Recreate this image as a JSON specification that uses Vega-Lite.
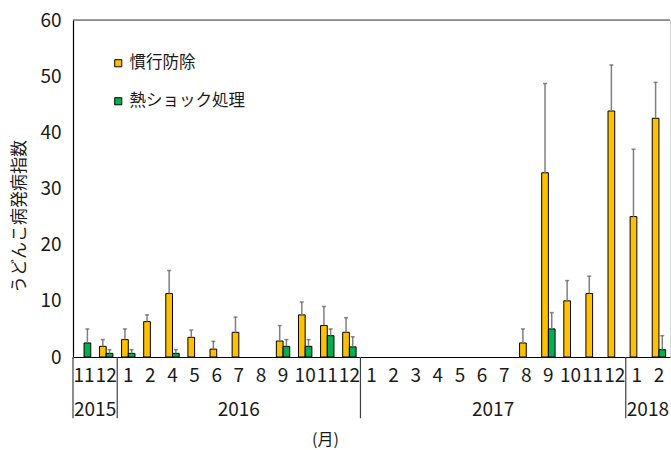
{
  "$schema": "https://vega.github.io/schema/vega-lite/v6.json",
  "width": 597,
  "height": 337,
  "autosize": "none",
  "padding": {"left": 73, "top": 20, "right": 1, "bottom": 93},
  "config": {"font": "Noto Sans CJK JP", "view": {"stroke": "#d9d9d9"}},
  "datasets": {
    "bars": [
      {"cat": "2015-11", "s": "熱ショック処理", "v": 2.5, "e": 5.0},
      {"cat": "2015-12", "s": "慣行防除", "v": 1.9, "e": 3.1},
      {"cat": "2015-12", "s": "熱ショック処理", "v": 0.65, "e": 1.3},
      {"cat": "2016-01", "s": "慣行防除", "v": 3.1, "e": 5.0},
      {"cat": "2016-01", "s": "熱ショック処理", "v": 0.65, "e": 1.3},
      {"cat": "2016-02", "s": "慣行防除", "v": 6.3, "e": 7.5},
      {"cat": "2016-04", "s": "慣行防除", "v": 11.3, "e": 15.4},
      {"cat": "2016-04", "s": "熱ショック処理", "v": 0.65, "e": 1.3},
      {"cat": "2016-05", "s": "慣行防除", "v": 3.5, "e": 4.8},
      {"cat": "2016-06", "s": "慣行防除", "v": 1.4, "e": 2.8},
      {"cat": "2016-07", "s": "慣行防除", "v": 4.4, "e": 7.1},
      {"cat": "2016-09", "s": "慣行防除", "v": 2.85, "e": 5.6},
      {"cat": "2016-09", "s": "熱ショック処理", "v": 1.9, "e": 3.1},
      {"cat": "2016-10", "s": "慣行防除", "v": 7.5, "e": 9.8},
      {"cat": "2016-10", "s": "熱ショック処理", "v": 1.9, "e": 3.1},
      {"cat": "2016-11", "s": "慣行防除", "v": 5.6, "e": 9.0},
      {"cat": "2016-11", "s": "熱ショック処理", "v": 3.8, "e": 5.0},
      {"cat": "2016-12", "s": "慣行防除", "v": 4.4, "e": 7.0},
      {"cat": "2016-12", "s": "熱ショック処理", "v": 1.8, "e": 3.6},
      {"cat": "2017-08", "s": "慣行防除", "v": 2.5, "e": 5.0},
      {"cat": "2017-09", "s": "慣行防除", "v": 32.8, "e": 48.7},
      {"cat": "2017-09", "s": "熱ショック処理", "v": 5.0, "e": 7.9},
      {"cat": "2017-10", "s": "慣行防除", "v": 10.0, "e": 13.6},
      {"cat": "2017-11", "s": "慣行防除", "v": 11.3, "e": 14.4},
      {"cat": "2017-12", "s": "慣行防除", "v": 43.8, "e": 52.0},
      {"cat": "2018-01", "s": "慣行防除", "v": 25.0, "e": 37.0},
      {"cat": "2018-02", "s": "慣行防除", "v": 42.5, "e": 48.9},
      {"cat": "2018-02", "s": "熱ショック処理", "v": 1.3, "e": 3.8}
    ],
    "seps": [
      {"cat": "2015-11"}, {"cat": "2016-01"}, {"cat": "2017-01"}, {"cat": "2018-01"}
    ],
    "yearsEdge": [
      {"cat": "2015-12", "year": "2015"},
      {"cat": "2017-07", "year": "2017"},
      {"cat": "2018-02", "year": "2018"}
    ],
    "yearsMid": [
      {"cat": "2016-07", "year": "2016"}
    ]
  },
  "layer": [
    {
      "data": {"name": "bars"},
      "mark": {"type": "bar", "stroke": "#000", "strokeWidth": 1},
      "encoding": {
        "x": {
          "field": "cat", "type": "nominal",
          "scale": {"domain": ["2015-11","2015-12","2016-01","2016-02","2016-04","2016-05","2016-06","2016-07","2016-08","2016-09","2016-10","2016-11","2016-12","2017-01","2017-02","2017-03","2017-04","2017-05","2017-06","2017-07","2017-08","2017-09","2017-10","2017-11","2017-12","2018-01","2018-02"], "paddingInner": 0, "paddingOuter": 0},
          "axis": {
            "title": "(月)", "titleFontSize": 16, "titleFontWeight": "normal", "titleColor": "#1a1a1a",
            "titleX": 252, "titleY": 87, "titleBaseline": "alphabetic",
            "labelExpr": "toNumber(split(datum.value, '-')[1])",
            "labelAngle": 0, "labelFontSize": 19, "labelColor": "#1a1a1a", "labelPadding": 9,
            "ticks": false, "domainColor": "#000", "domainWidth": 1.2, "grid": false
          }
        },
        "xOffset": {"field": "s", "type": "nominal", "scale": {"domain": ["慣行防除", "熱ショック処理"], "paddingInner": 0, "paddingOuter": 0.65}},
        "y": {
          "field": "v", "type": "quantitative",
          "scale": {"domain": [0, 60], "nice": false},
          "axis": {
            "title": "うどんこ病発病指数", "titleFontSize": 17, "titleFontWeight": "normal", "titleColor": "#1a1a1a",
            "titleX": -45, "titleY": 196,
            "values": [0, 10, 20, 30, 40, 50, 60],
            "labelFontSize": 19, "labelColor": "#1a1a1a", "labelPadding": 12,
            "ticks": false, "grid": false, "domainColor": "#000", "domainWidth": 1.2
          }
        },
        "color": {
          "field": "s", "type": "nominal",
          "scale": {"domain": ["慣行防除", "熱ショック処理"], "range": ["#FFC000", "#00B050"]},
          "legend": {
            "orient": "none", "legendX": 37, "legendY": 35, "title": null,
            "symbolType": "square", "symbolSize": 50, "symbolStrokeColor": "#000", "symbolStrokeWidth": 1,
            "labelFontSize": 16.5, "labelColor": "#1a1a1a", "rowPadding": 21, "labelOffset": 3
          }
        }
      }
    },
    {
      "data": {"name": "bars"},
      "mark": {"type": "rule", "color": "#808080", "strokeWidth": 1.5},
      "encoding": {
        "x": {"field": "cat", "type": "nominal"},
        "xOffset": {"field": "s", "type": "nominal"},
        "y": {"field": "v", "type": "quantitative", "scale": {"domain": [0, 60], "nice": false}},
        "y2": {"field": "e"}
      }
    },
    {
      "data": {"name": "bars"},
      "mark": {"type": "tick", "color": "#595959", "size": 4, "thickness": 1.5},
      "encoding": {
        "x": {"field": "cat", "type": "nominal"},
        "xOffset": {"field": "s", "type": "nominal"},
        "y": {"field": "e", "type": "quantitative", "scale": {"domain": [0, 60], "nice": false}}
      }
    },
    {
      "data": {"values": [{}]},
      "mark": {"type": "rule", "color": "#404040", "strokeWidth": 1.2},
      "encoding": {
        "y": {"datum": 60, "type": "quantitative", "scale": {"domain": [0, 60], "nice": false}}
      }
    },
    {
      "data": {"name": "seps"},
      "mark": {"type": "rule", "color": "#404040", "strokeWidth": 1.2},
      "encoding": {
        "x": {"field": "cat", "type": "nominal", "bandPosition": 0},
        "y": {"datum": 0, "type": "quantitative", "scale": {"domain": [0, 60], "nice": false}},
        "y2": {"datum": -10.9}
      }
    },
    {
      "data": {"name": "yearsEdge"},
      "mark": {"type": "text", "fontSize": 19, "color": "#1a1a1a", "baseline": "alphabetic", "align": "center"},
      "encoding": {
        "x": {"field": "cat", "type": "nominal", "bandPosition": 0},
        "y": {"datum": -10.5, "type": "quantitative", "scale": {"domain": [0, 60], "nice": false}},
        "text": {"field": "year"}
      }
    },
    {
      "data": {"name": "yearsMid"},
      "mark": {"type": "text", "fontSize": 19, "color": "#1a1a1a", "baseline": "alphabetic", "align": "center"},
      "encoding": {
        "x": {"field": "cat", "type": "nominal", "bandPosition": 0.5},
        "y": {"datum": -10.5, "type": "quantitative", "scale": {"domain": [0, 60], "nice": false}},
        "text": {"field": "year"}
      }
    }
  ]
}
